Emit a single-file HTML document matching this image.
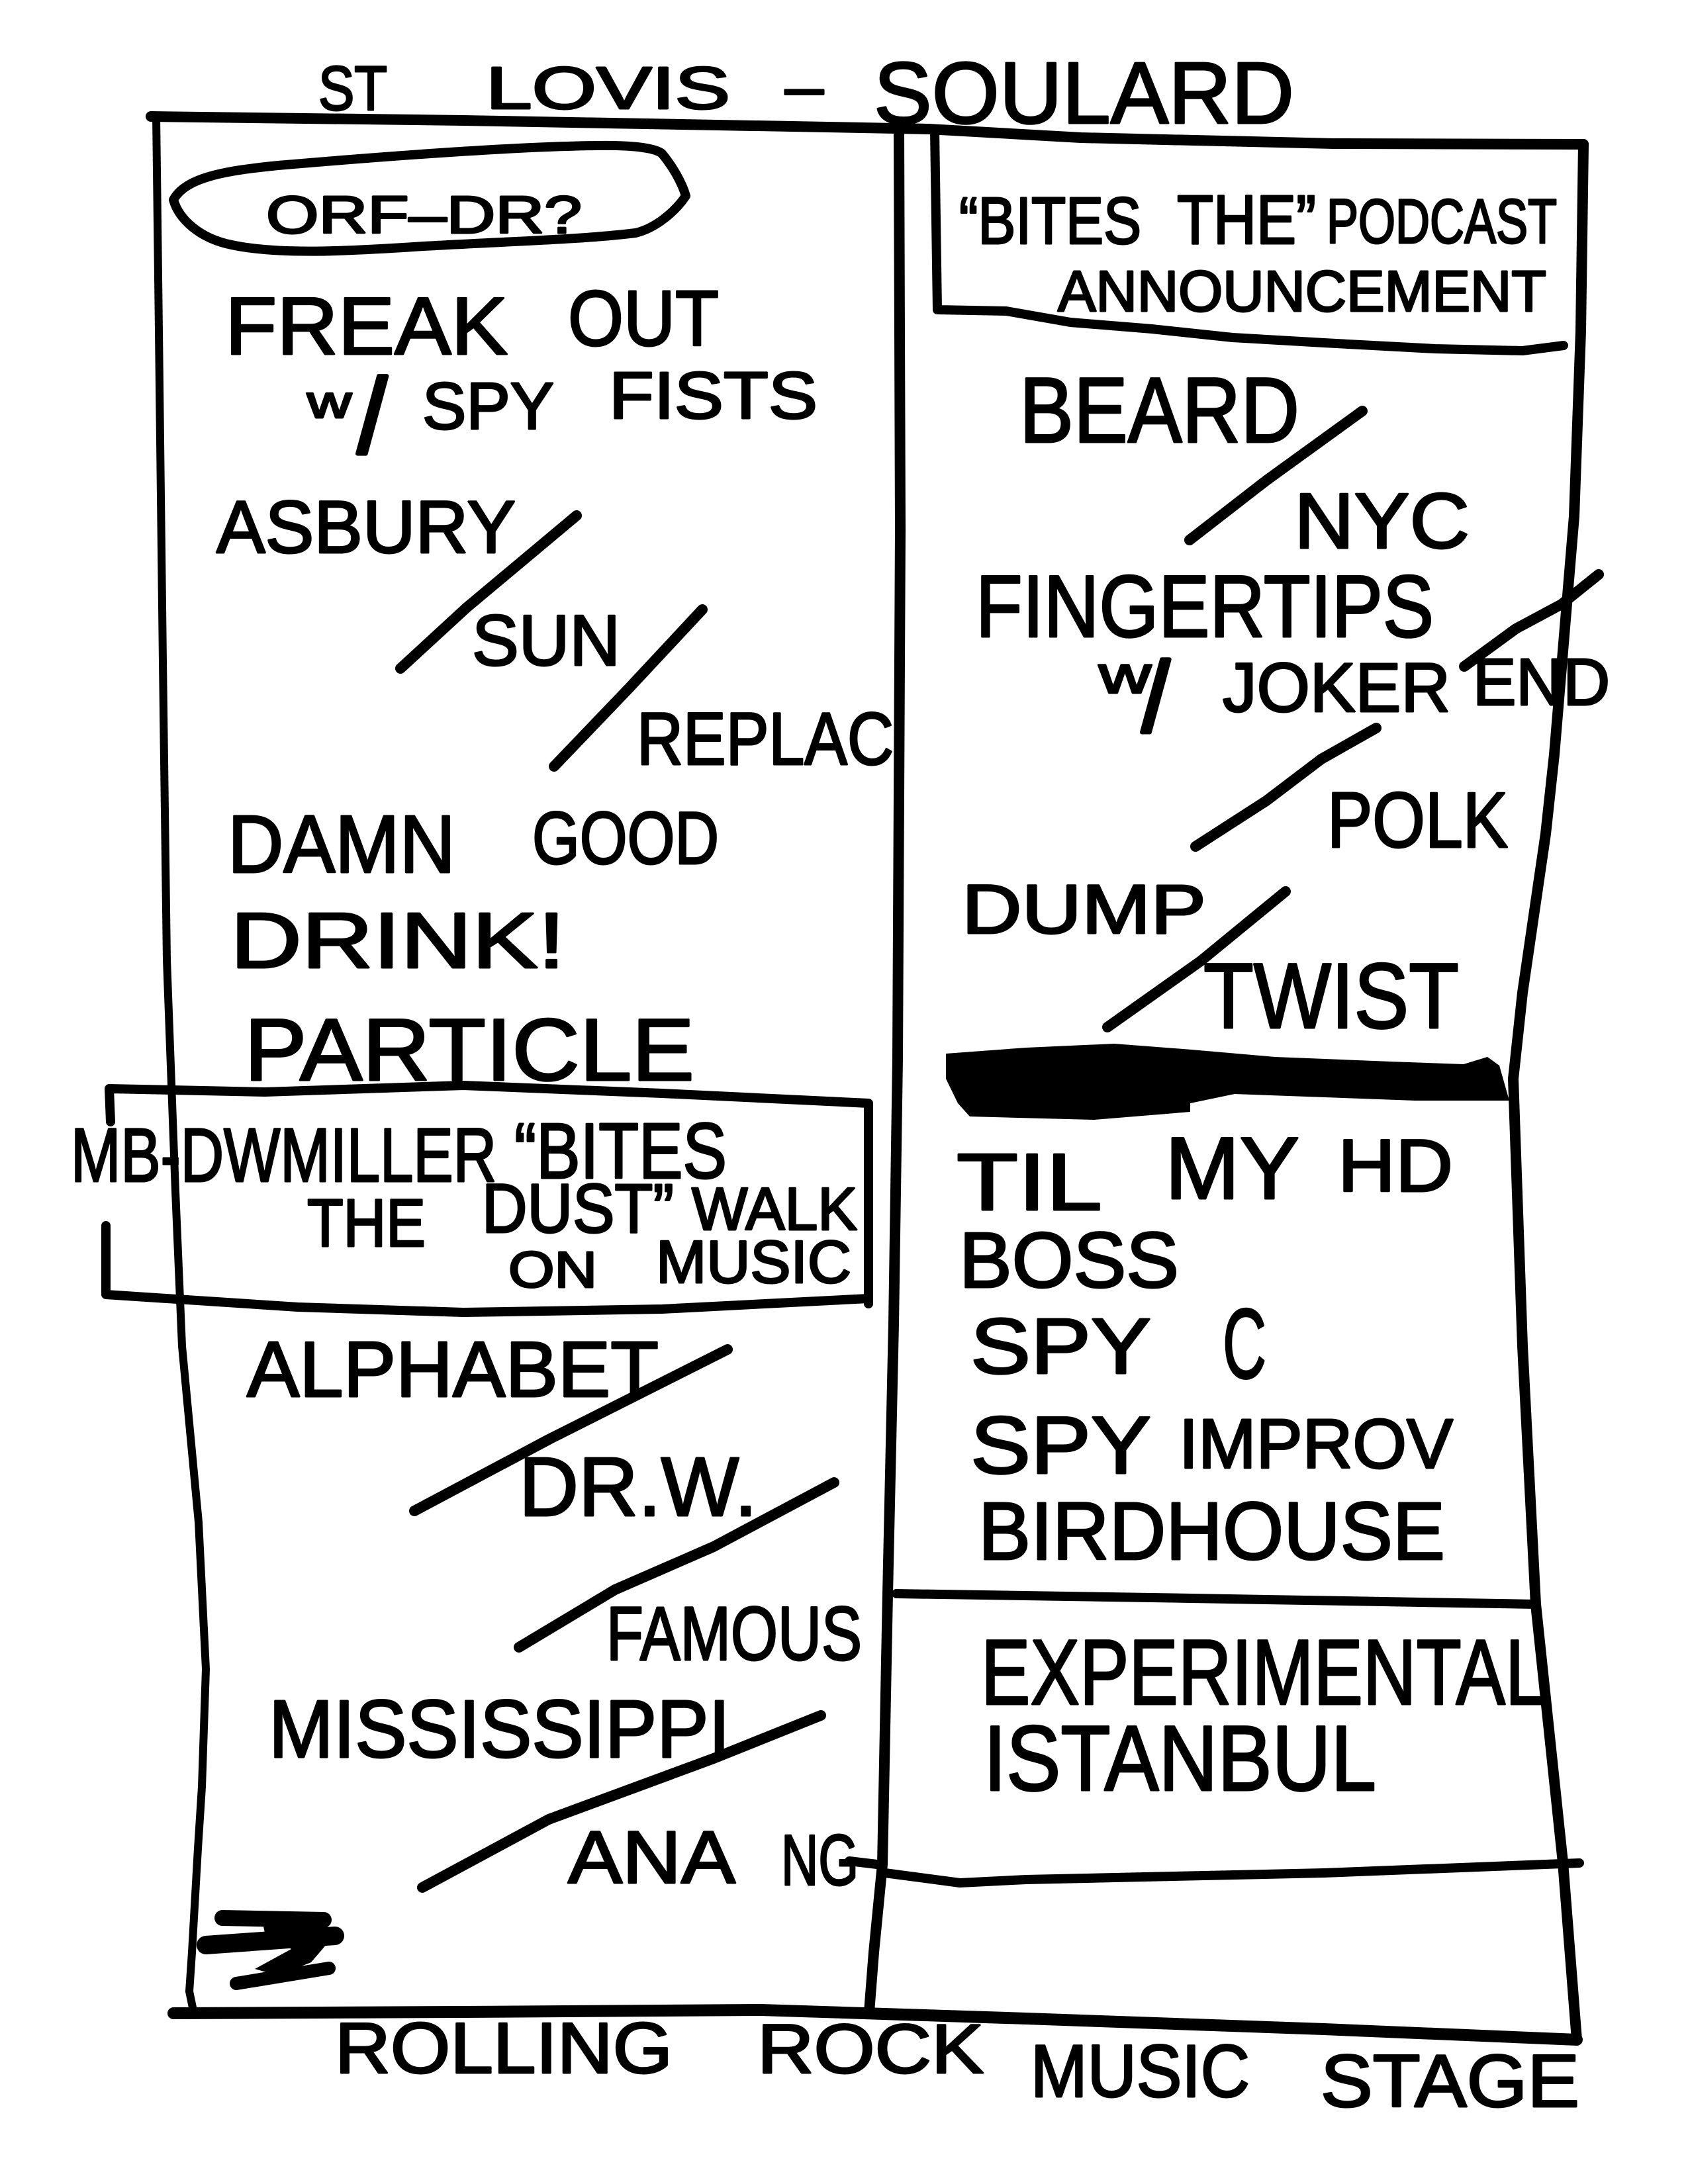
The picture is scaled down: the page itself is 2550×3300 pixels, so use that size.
<!DOCTYPE html>
<html><head><meta charset="utf-8"><style>html,body{margin:0;padding:0;background:#fff}svg{display:block}</style></head>
<body>
<svg xmlns="http://www.w3.org/2000/svg" width="2550" height="3300" viewBox="0 0 2550 3300">
<rect width="2550" height="3300" fill="#fff"/>
<g fill="none" stroke="#000" stroke-linecap="round" stroke-linejoin="round">
<!-- outer frame -->
<path stroke-width="16" d="M228,176 L700,182 L1250,192 L1403,195 L1633,208 L2015,217 L2392,218"/>
<path stroke-width="12" d="M236,176 L240,500 L246,1000 L252,1450 L265,1800 L275,2034 L300,2300 L311,2522 L305,2700 L299,2793 L290,2950 L286,3009 L292,3038"/>
<path stroke-width="18" d="M262,3042 L700,3040 L1150,3037 L1550,3050 L2000,3066 L2382,3082"/>
<path stroke-width="16" d="M2392,218 L2388,500 L2378,780 L2348,1140 L2335,1260 L2300,1500 L2286,1630 L2300,2034 L2320,2424 L2361,2814 L2382,3082"/>
<path stroke-width="16" d="M1358,203 L1360,800 L1356,1600 L1350,2000 L1341,2408 L1333,2817 L1320,2950 L1313,3040"/>
<!-- podcast box -->
<path stroke-width="14" d="M1412,197 L1416,468 L1520,470 L1617,487 L1740,497 L1862,510 L2000,518 L2168,527 L2300,530 L2362,522"/>
<!-- oval -->
<path stroke-width="14" d="M262,302 C280,268 340,258 420,250 C560,238 760,222 900,220 C960,219 990,224 1000,232 C1015,250 1030,275 1036,296 C1020,320 990,345 960,352 C880,362 760,365 640,372 C520,380 420,385 350,370 C300,360 270,330 262,302 Z"/>
<!-- miller box -->
<path stroke-width="14" d="M167,1695 L165,1645 L400,1650 L700,1640 L1000,1652 L1312,1667 L1312,1970"/>
<path stroke-width="14" d="M160,1852 L160,1956 L450,1975 L700,1983 L1000,1978 L1312,1962"/>
<!-- dividers right -->
<path stroke-width="14" d="M1354,2408 L1800,2415 L2320,2424"/>
<path stroke-width="14" d="M1283,2812 L1333,2818"/>
<path stroke-width="14" d="M1337,2830 L1450,2845 L1550,2840 L2000,2830 L2386,2815"/>
<!-- slashes -->
<g stroke-width="16">
<path d="M605,1010 L705,918 L871,779"/>
<path d="M837,1158 L950,1040 L1061,921"/>
<path d="M626,2283 L829,2175 L1099,2039"/>
<path d="M784,2489 L929,2402 L1078,2337 L1260,2240"/>
<path d="M638,2852 L829,2749 L1078,2657 L1240,2592"/>
<path d="M1797,816 L1913,726 L2058,621"/>
<path d="M2212,1007 L2290,950 L2359,913 L2415,868"/>
<path d="M1806,1279 L1913,1210 L1996,1147 L2079,1100"/>
<path d="M1673,1552 L1814,1452 L1942,1347"/>
</g>
<!-- scribble bottom left -->
<path stroke-width="24" d="M336,2898 L489,2901"/>
<path stroke-width="28" d="M311,2939 L506,2925"/>
<path stroke-width="20" d="M357,2997 L497,2974"/>
</g>
<polygon fill="#000" points="395,2898 490,2898 500,2930 470,2965 420,2985 385,2975 440,2945 400,2920"/>
<!-- redaction blob -->
<polygon fill="#000" points="1429,1592 1550,1583 1683,1577 1800,1586 1926,1597 2100,1604 2211,1608 2247,1597 2265,1610 2280,1663 2138,1663 1865,1653 1798,1667 1798,1680 1653,1692 1465,1687 1447,1667 1429,1630"/>

<g font-family="'Liberation Sans', 'DejaVu Sans', sans-serif" fill="#000" stroke="#000" stroke-width="3" stroke-linejoin="round">
<!-- title -->
<text x="481" y="166" font-size="95" textLength="104" lengthAdjust="spacingAndGlyphs">ST</text>
<text x="734" y="164" font-size="90" textLength="369" lengthAdjust="spacingAndGlyphs">LOVIS</text>
<text x="1186" y="164" font-size="98" textLength="58" lengthAdjust="spacingAndGlyphs">–</text>
<text x="1320" y="186" font-size="132" textLength="635" lengthAdjust="spacingAndGlyphs">SOULARD</text>
<!-- left column -->
<text x="402" y="352" font-size="80" textLength="477" lengthAdjust="spacingAndGlyphs">ORF–DR?</text>
<text x="340" y="535" font-size="123" textLength="427" lengthAdjust="spacingAndGlyphs">FREAK</text>
<text x="858" y="522" font-size="119" textLength="228" lengthAdjust="spacingAndGlyphs">OUT</text>
<text x="464" y="631" font-size="70" textLength="67" lengthAdjust="spacingAndGlyphs">w</text>
<text x="540" y="684" font-size="160" stroke-width="6">/</text>
<text x="638" y="648" font-size="100" textLength="199" lengthAdjust="spacingAndGlyphs">SPY</text>
<text x="920" y="632" font-size="100" textLength="315" lengthAdjust="spacingAndGlyphs">FISTS</text>
<text x="327" y="835" font-size="112" textLength="452" lengthAdjust="spacingAndGlyphs">ASBURY</text>
<text x="713" y="1005" font-size="109" textLength="224" lengthAdjust="spacingAndGlyphs">SUN</text>
<text x="962" y="1155" font-size="112" textLength="388" lengthAdjust="spacingAndGlyphs">REPLAC</text>
<text x="344" y="1318" font-size="123" textLength="344" lengthAdjust="spacingAndGlyphs">DAMN</text>
<text x="804" y="1305" font-size="112" textLength="282" lengthAdjust="spacingAndGlyphs">GOOD</text>
<text x="348" y="1462" font-size="119" textLength="506" lengthAdjust="spacingAndGlyphs">DRINK!</text>
<text x="369" y="1632" font-size="133" textLength="680" lengthAdjust="spacingAndGlyphs">PARTICLE</text>
<text x="107" y="1785" font-size="115" textLength="643" lengthAdjust="spacingAndGlyphs">MB-DWMILLER</text>
<text x="777" y="1780" font-size="119" textLength="321" lengthAdjust="spacingAndGlyphs">“BITES</text>
<text x="464" y="1883" font-size="102" textLength="179" lengthAdjust="spacingAndGlyphs">THE</text>
<text x="728" y="1862" font-size="105" textLength="290" lengthAdjust="spacingAndGlyphs">DUST”</text>
<text x="1045" y="1858" font-size="91" textLength="250" lengthAdjust="spacingAndGlyphs">WALK</text>
<text x="768" y="1945" font-size="77" textLength="134" lengthAdjust="spacingAndGlyphs">ON</text>
<text x="991" y="1938" font-size="91" textLength="295" lengthAdjust="spacingAndGlyphs">MUSIC</text>
<text x="373" y="2110" font-size="119" textLength="622" lengthAdjust="spacingAndGlyphs">ALPHABET</text>
<text x="784" y="2290" font-size="126" textLength="360" lengthAdjust="spacingAndGlyphs">DR.W.</text>
<text x="916" y="2508" font-size="115" textLength="386" lengthAdjust="spacingAndGlyphs">FAMOUS</text>
<text x="406" y="2655" font-size="123" textLength="697" lengthAdjust="spacingAndGlyphs">MISSISSIPPI</text>
<text x="858" y="2845" font-size="112" textLength="253" lengthAdjust="spacingAndGlyphs">ANA</text>
<text x="1180" y="2848" font-size="109" textLength="117" lengthAdjust="spacingAndGlyphs">NG</text>
<!-- bottom -->
<text x="506" y="3132" font-size="109" textLength="510" lengthAdjust="spacingAndGlyphs">ROLLING</text>
<text x="1144" y="3132" font-size="105" textLength="342" lengthAdjust="spacingAndGlyphs">ROCK</text>
<text x="1557" y="3168" font-size="112" textLength="331" lengthAdjust="spacingAndGlyphs">MUSIC</text>
<text x="1995" y="3183" font-size="112" textLength="391" lengthAdjust="spacingAndGlyphs">STAGE</text>
<!-- right column -->
<text x="1449" y="368" font-size="100" textLength="275" lengthAdjust="spacingAndGlyphs">“BITES</text>
<text x="1778" y="368" font-size="105" textLength="210" lengthAdjust="spacingAndGlyphs">THE”</text>
<text x="2004" y="367" font-size="95" textLength="348" lengthAdjust="spacingAndGlyphs">PODCAST</text>
<text x="1598" y="470" font-size="87" textLength="738" lengthAdjust="spacingAndGlyphs">ANNOUNCEMENT</text>
<text x="1540" y="668" font-size="140" textLength="423" lengthAdjust="spacingAndGlyphs">BEARD</text>
<text x="1955" y="828" font-size="119" textLength="265" lengthAdjust="spacingAndGlyphs">NYC</text>
<text x="1474" y="962" font-size="133" textLength="692" lengthAdjust="spacingAndGlyphs">FINGERTIPS</text>
<text x="1660" y="1047" font-size="80" textLength="79" lengthAdjust="spacingAndGlyphs">w</text>
<text x="1725" y="1105" font-size="150" stroke-width="6">/</text>
<text x="1847" y="1075" font-size="105" textLength="344" lengthAdjust="spacingAndGlyphs">JOKER</text>
<text x="2225" y="1065" font-size="100" textLength="207" lengthAdjust="spacingAndGlyphs">END</text>
<text x="2005" y="1280" font-size="119" textLength="273" lengthAdjust="spacingAndGlyphs">POLK</text>
<text x="1453" y="1410" font-size="105" textLength="369" lengthAdjust="spacingAndGlyphs">DUMP</text>
<text x="1818" y="1553" font-size="140" textLength="386" lengthAdjust="spacingAndGlyphs">TWIST</text>
<text x="1445" y="1828" font-size="122" textLength="220" lengthAdjust="spacingAndGlyphs">TIL</text>
<text x="1760" y="1811" font-size="133" textLength="203" lengthAdjust="spacingAndGlyphs">MY</text>
<text x="2021" y="1800" font-size="112" textLength="174" lengthAdjust="spacingAndGlyphs">HD</text>
<text x="1449" y="1945" font-size="119" textLength="332" lengthAdjust="spacingAndGlyphs">BOSS</text>
<text x="1466" y="2075" font-size="119" textLength="273" lengthAdjust="spacingAndGlyphs">SPY</text>
<text x="1847" y="2082" font-size="150" textLength="66" lengthAdjust="spacingAndGlyphs">C</text>
<text x="1466" y="2226" font-size="123" textLength="273" lengthAdjust="spacingAndGlyphs">SPY</text>
<text x="1781" y="2218" font-size="106" textLength="414" lengthAdjust="spacingAndGlyphs">IMPROV</text>
<text x="1478" y="2356" font-size="123" textLength="705" lengthAdjust="spacingAndGlyphs">BIRDHOUSE</text>
<text x="1482" y="2575" font-size="140" textLength="854" lengthAdjust="spacingAndGlyphs">EXPERIMENTAL</text>
<text x="1486" y="2705" font-size="140" textLength="593" lengthAdjust="spacingAndGlyphs">ISTANBUL</text>
</g>
</svg>
</body></html>
